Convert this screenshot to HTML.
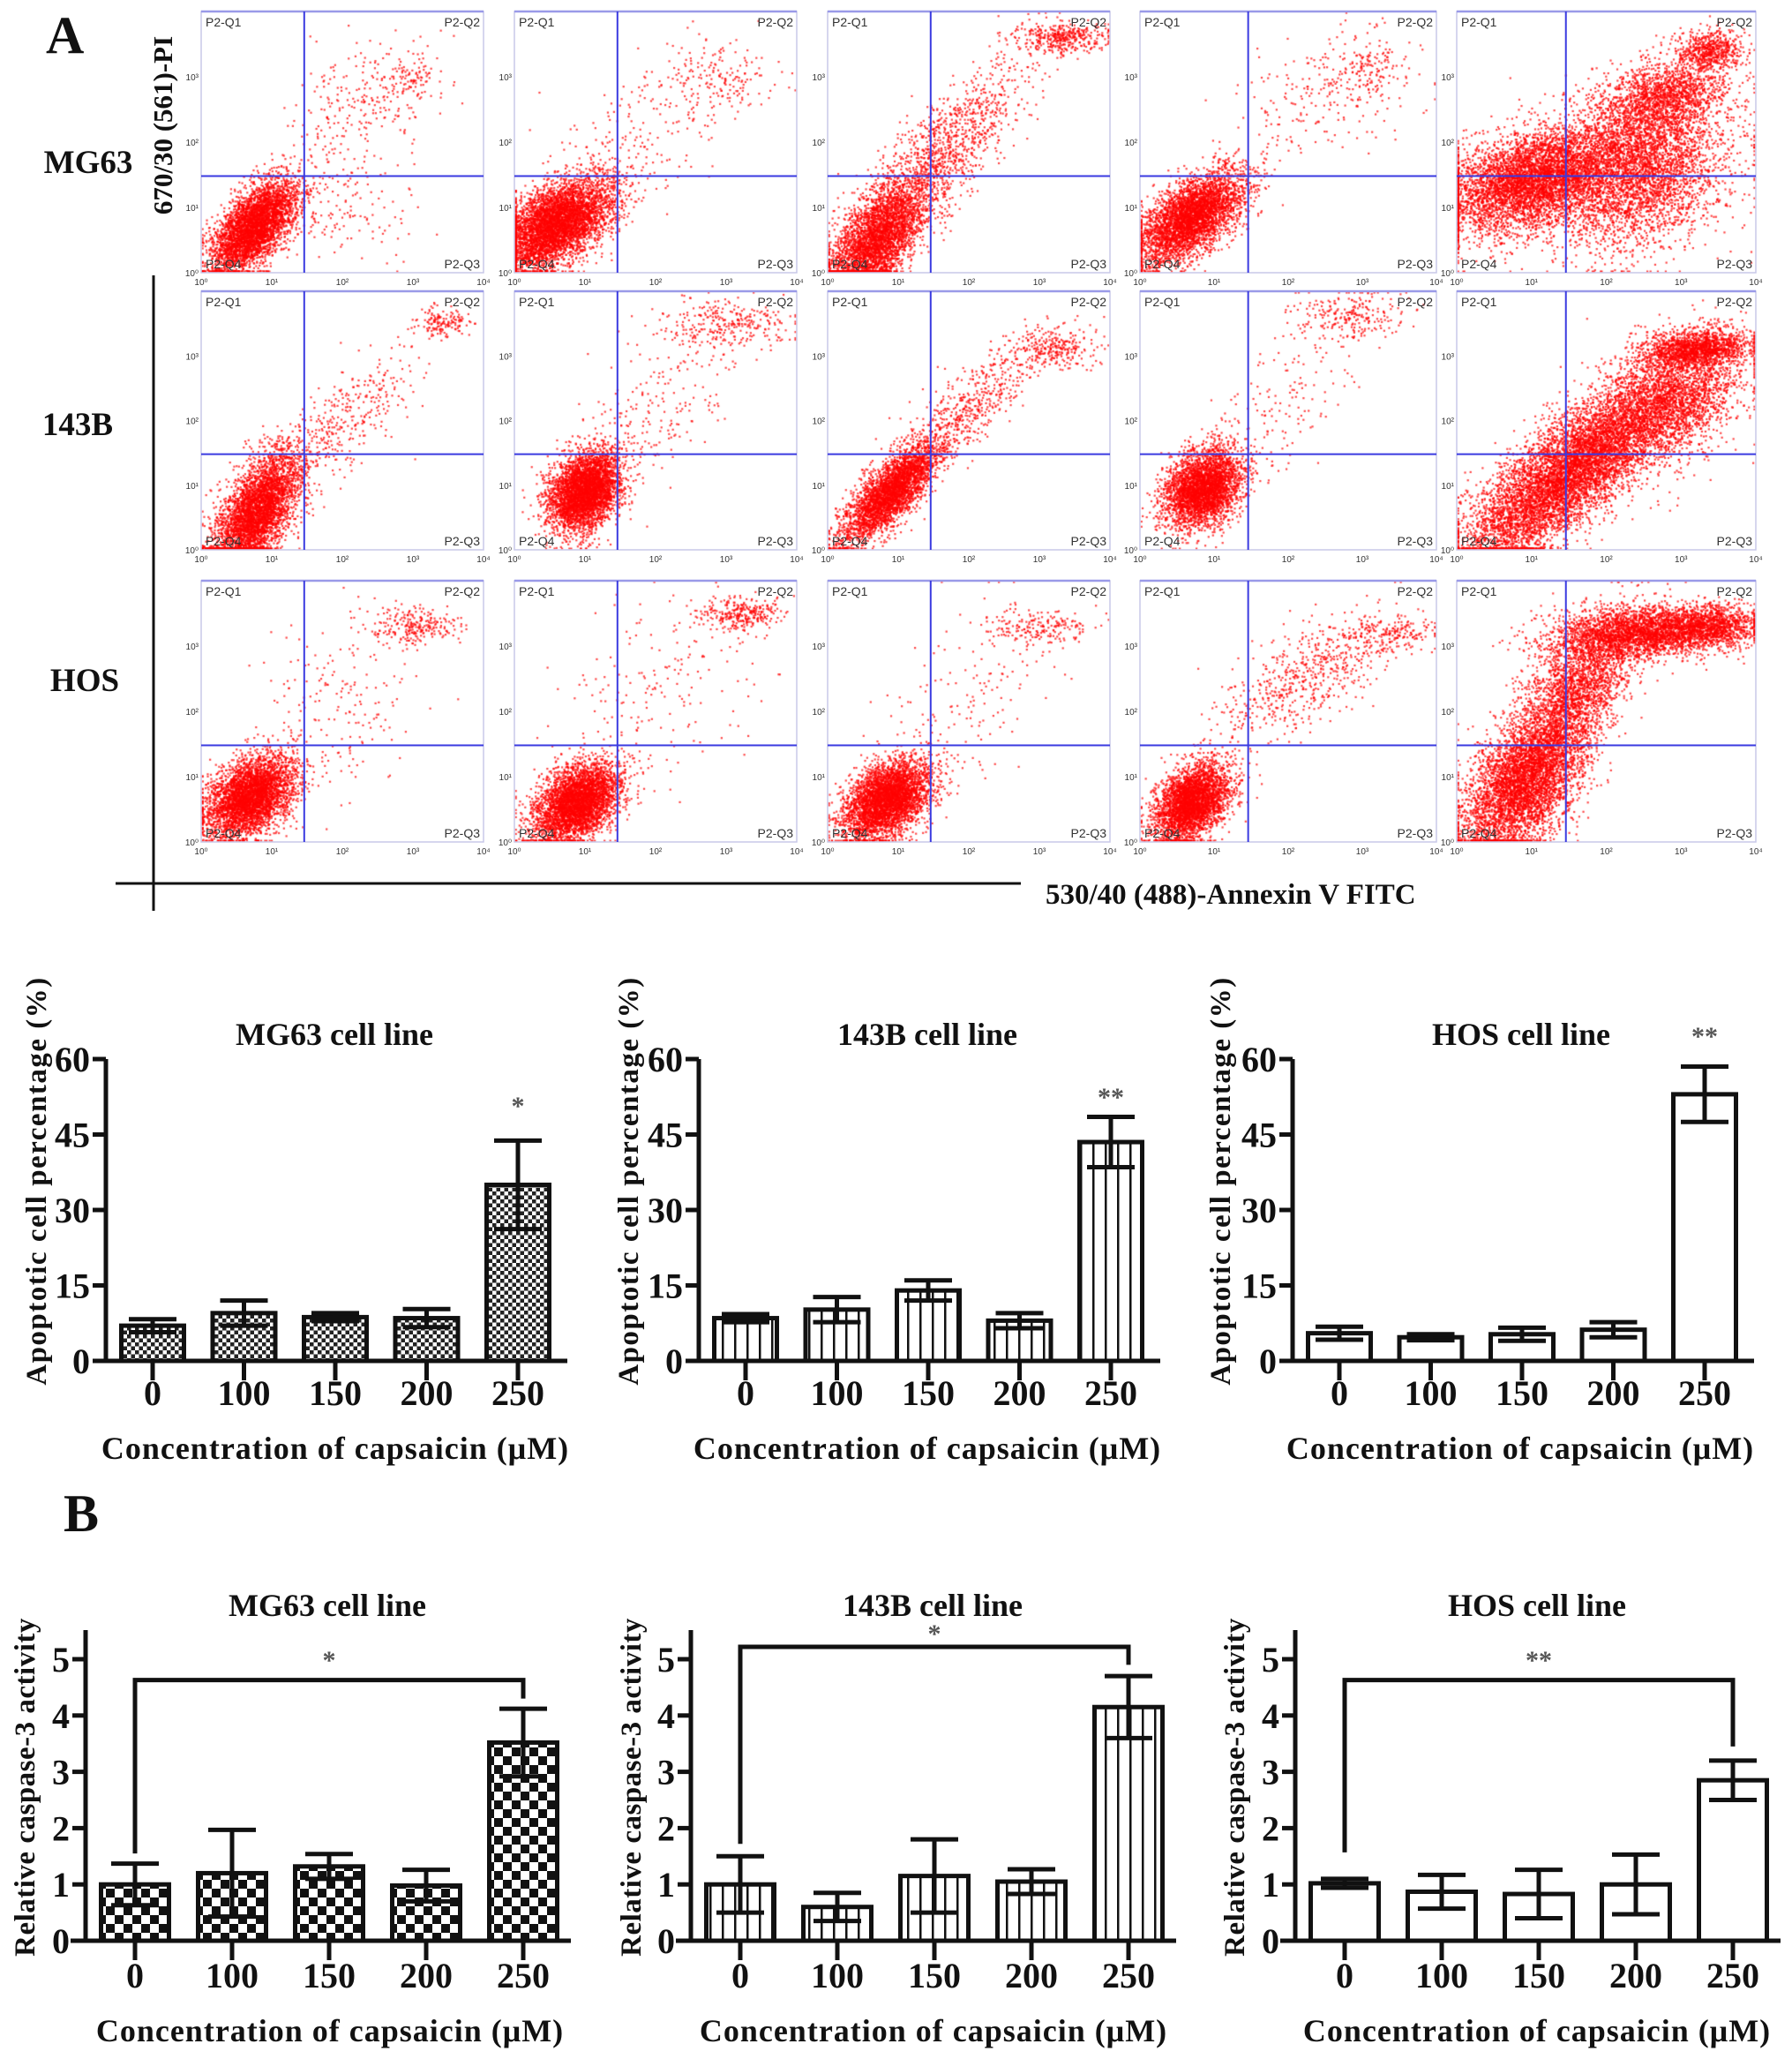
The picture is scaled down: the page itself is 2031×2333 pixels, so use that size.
<!DOCTYPE html>
<html><head><meta charset="utf-8"><style>
html,body{margin:0;padding:0;background:#fff;}
#wrap{position:relative;width:2031px;height:2333px;overflow:hidden;}
canvas,svg{position:absolute;left:0;top:0;}
text{font-family:"Liberation Serif",serif;font-weight:bold;fill:#111;}
.sm{font-family:"Liberation Sans",sans-serif;font-weight:normal;fill:#333;}
</style></head><body>
<div id="wrap">
<canvas id="cv" width="2031" height="2333"></canvas>
<svg id="sv" width="2031" height="2333" xmlns="http://www.w3.org/2000/svg">
<defs>
<pattern id="chkA" width="9" height="9" patternUnits="userSpaceOnUse"><rect width="9" height="9" fill="#fff"/><rect width="4.5" height="4.5" fill="#222"/><rect x="4.5" y="4.5" width="4.5" height="4.5" fill="#222"/></pattern>
<pattern id="chkB" width="20" height="20" patternUnits="userSpaceOnUse"><rect width="20" height="20" fill="#fff"/><rect width="10" height="10" fill="#111"/><rect x="10" y="10" width="10" height="10" fill="#111"/></pattern>
<pattern id="stripe" width="14" height="10" patternUnits="userSpaceOnUse"><rect width="14" height="10" fill="#fff"/><rect x="6" width="2.5" height="10" fill="#111"/></pattern>
</defs>
<text x="52" y="60" font-size="60">A</text>
<text x="72" y="1735" font-size="60">B</text>
<text x="100" y="196" font-size="37" text-anchor="middle">MG63</text>
<text x="88" y="493" font-size="37" text-anchor="middle">143B</text>
<text x="96" y="783" font-size="37" text-anchor="middle">HOS</text>
<text transform="translate(195,142) rotate(-90)" font-size="31" text-anchor="middle">670/30 (561)-PI</text>
<line x1="174" y1="312" x2="174" y2="1032" stroke="#111" stroke-width="3"/>
<line x1="131" y1="1001" x2="1157" y2="1001" stroke="#111" stroke-width="3"/>
<text x="1185" y="1024" font-size="33">530/40 (488)-Annexin V FITC</text>
<g id="flowg"></g>
<g id="barg"></g>
</svg>
</div>
<script>
// ---------- Bar chart data ----------
const categories = ["0","100","150","200","250"];
const ticksA = [0,15,30,45,60];
const ticksB = [0,1,2,3,4,5];
const mg63ApopMean = [7.0, 9.5, 8.7, 8.5, 35.0];
const mg63ApopErr  = [1.3, 2.5, 0.8, 1.8, 8.8];
const b143ApopMean = [8.5, 10.2, 14.0, 8.0, 43.5];
const b143ApopErr  = [0.8, 2.5, 2.0, 1.5, 5.0];
const hosApopMean  = [5.5, 4.7, 5.3, 6.2, 53.0];
const hosApopErr   = [1.3, 0.6, 1.3, 1.5, 5.5];
const mg63CaspMean = [1.0, 1.2, 1.32, 0.98, 3.52];
const mg63CaspErr  = [0.37, 0.77, 0.22, 0.28, 0.6];
const b143CaspMean = [1.0, 0.6, 1.15, 1.05, 4.15];
const b143CaspErr  = [0.5, 0.25, 0.65, 0.22, 0.55];
const hosCaspMean  = [1.02, 0.87, 0.83, 1.0, 2.85];
const hosCaspErr   = [0.08, 0.3, 0.43, 0.53, 0.35];
const starsA = ["*","**","**"];
const starsB = ["*","*","**"];

// ---------- Flow cytometry cluster data: [cx, cy, sx, sy, corr, n] in log decades ----------
const flowClusters = [
 [[0.75,0.7,0.3,0.35,0.6,4000],[2.3,2.6,0.5,0.5,0.3,250],[3.0,3.0,0.15,0.15,0,80],[2.0,1.0,0.5,0.4,0,150]],
 [[0.6,0.75,0.4,0.35,0.5,5000],[2.8,3.0,0.4,0.3,0,200],[1.8,2.0,0.6,0.5,0.3,150]],
 [[0.7,0.5,0.35,0.45,0.6,3500],[1.6,1.8,0.6,0.7,0.8,1200],[3.3,3.6,0.35,0.12,0,400]],
 [[0.7,0.85,0.35,0.35,0.6,4000],[2.6,2.8,0.6,0.5,0.3,250],[3.1,3.1,0.2,0.2,0,100]],
 [[1.0,1.4,0.6,0.4,0.4,5000],[2.4,1.6,0.6,0.6,0.2,4000],[2.8,2.7,0.4,0.3,0.3,1500],[3.4,3.4,0.2,0.15,0,600]],
 [[0.8,0.6,0.3,0.45,0.6,4000],[1.8,1.8,0.6,0.6,0.8,400],[3.4,3.5,0.2,0.12,0,150]],
 [[1.0,0.9,0.25,0.3,0.3,4000],[3.0,3.5,0.5,0.2,0,300],[2.0,2.2,0.5,0.6,0.5,200]],
 [[0.9,0.9,0.35,0.4,0.8,3500],[2.1,2.3,0.5,0.5,0.8,500],[3.2,3.1,0.3,0.15,0,250]],
 [[0.85,0.95,0.25,0.3,0.3,3500],[2.9,3.6,0.4,0.2,0,250],[1.9,2.2,0.5,0.6,0.5,150]],
 [[1.0,0.7,0.5,0.5,0.6,3000],[1.8,1.5,0.5,0.5,0.6,3500],[2.8,2.3,0.5,0.5,0.4,3000],[3.2,3.1,0.35,0.15,0.2,1500]],
 [[0.7,0.7,0.3,0.3,0.4,4000],[3.0,3.3,0.3,0.15,0,250],[1.9,2.0,0.6,0.8,0.3,200]],
 [[0.9,0.6,0.3,0.3,0.4,4000],[3.2,3.5,0.3,0.12,0,300],[2.0,2.2,0.7,0.8,0.4,200]],
 [[0.85,0.65,0.3,0.3,0.4,4000],[3.0,3.3,0.4,0.12,0,200],[2.0,2.3,0.6,0.7,0.3,150]],
 [[0.7,0.6,0.25,0.3,0.4,3500],[2.2,2.5,0.6,0.5,0.7,600],[3.4,3.2,0.3,0.15,0,200]],
 [[0.9,0.9,0.4,0.55,0.5,4500],[1.6,2.3,0.4,0.6,0.6,2500],[2.5,3.2,0.6,0.2,0.2,3000],[3.4,3.3,0.3,0.15,0,1000]]
];

const NS="http://www.w3.org/2000/svg";
function el(tag,attrs,parent,txt){const e=document.createElementNS(NS,tag);for(const k in attrs)e.setAttribute(k,attrs[k]);if(txt!==undefined)e.textContent=txt;parent.appendChild(e);return e;}

// ---------- Flow plots ----------
const colX=[228,583,938,1292,1651], colW=[320,320,320,336,339];
const rowY=[13,330,658], rowH=[296,293,296];
const ctx=document.getElementById('cv').getContext('2d');
const fg=document.getElementById('flowg');
let seed=12345;
function rnd(){seed|=0;seed=seed+0x6D2B79F5|0;let t=Math.imul(seed^seed>>>15,1|seed);t=t+Math.imul(t^t>>>7,61|t)^t;return((t^t>>>14)>>>0)/4294967296;}
function gauss(){let u=rnd()||1e-9,v=rnd();return Math.sqrt(-2*Math.log(u))*Math.cos(2*Math.PI*v);}
const qnames=["P2-Q1","P2-Q2","P2-Q3","P2-Q4"];
for(let r=0;r<3;r++)for(let c=0;c<5;c++){
  const x0=colX[c],y0=rowY[r],w=colW[c],h=rowH[r];
  const g=el('g',{},fg);
  
  
  el('rect',{x:x0,y:y0,width:w,height:h,fill:'none',stroke:'#c8c8e8','stroke-width':1.5},g);
  el('line',{x1:x0,y1:y0,x2:x0+w,y2:y0,stroke:'#9a9ae8','stroke-width':2.5},g);
  const vx=x0+0.365*w, hy=y0+0.63*h;
  const vl=el('line',{x1:vx,y1:y0,x2:vx,y2:y0+h,stroke:'#3a3ae0','stroke-width':2},g);
  
  
  const hl=el('line',{x1:x0,y1:hy,x2:x0+w,y2:hy,stroke:'#3a3ae0','stroke-width':2},g);
  
  
  el('text',{x:x0+5,y:y0+17,'font-size':14,class:'sm'},g,qnames[0]);
  el('text',{x:x0+w-4,y:y0+17,'font-size':14,class:'sm','text-anchor':'end'},g,qnames[1]);
  el('text',{x:x0+w-4,y:y0+h-5,'font-size':14,class:'sm','text-anchor':'end'},g,qnames[2]);
  el('text',{x:x0+5,y:y0+h-5,'font-size':14,class:'sm'},g,qnames[3]);
  for(let d=0;d<=4;d++){
    el('text',{x:x0+d*w/4,y:y0+h+14,'font-size':10,class:'sm','text-anchor':'middle'},g,'10'+['⁰','¹','²','³','⁴'][d]);
    if(d<4) el('text',{x:x0-3,y:y0+h-d*h/4+4,'font-size':10,class:'sm','text-anchor':'end'},g,'10'+['⁰','¹','²','³','⁴'][d]);
  }
  ctx.fillStyle='rgba(255,0,0,0.72)';
  const cl=flowClusters[r*5+c];
  for(const [cx,cy,sx,sy,cr,n] of cl){
    for(let i=0;i<n;i++){
      const z1=gauss(),z2=gauss();
      let dx=cx+sx*z1, dy=cy+sy*(cr*z1+Math.sqrt(1-cr*cr)*z2);
      dx=Math.max(0.02,Math.min(3.98,dx)); dy=Math.max(0.02,Math.min(3.98,dy));
      ctx.fillRect(x0+dx/4*w-1, y0+h-dy/4*h-1, 2.2, 2.2);
    }
  }
}

// ---------- Bar charts ----------
const bg=document.getElementById('barg');
function barChart(o){
  const g=el('g',{},bg);
  
  
  const ys=v=>o.y0-(v-0)*(o.y0-o.yTop)/o.vTop;
  const xs=i=>o.cat0+i*o.step;
  o.mean.forEach((m,i)=>{
    const b=el('rect',{x:xs(i)-o.bw/2,y:ys(m),width:o.bw,height:o.y0-ys(m),fill:o.fill,stroke:'#111','stroke-width':5},g);
    
    
    const e=o.err[i], cx=xs(i);
    const eb=el('path',{d:`M${cx},${ys(m-e)}V${ys(m+e)}M${cx-27},${ys(m+e)}H${cx+27}M${cx-27},${ys(m-e)}H${cx+27}`,stroke:'#111','stroke-width':5,fill:'none'},g);
    
    
    const tk=el('line',{x1:cx,y1:o.y0,x2:cx,y2:o.y0+22,stroke:'#111','stroke-width':5},g);
    
    
    const tl=el('text',{x:cx,y:o.y0+o.tlOff,'font-size':40,'text-anchor':'middle'},g,categories[i]);
    
    
  });
  const ya=el('line',{x1:o.ax,y1:o.axTop,x2:o.ax,y2:o.y0+2,stroke:'#111','stroke-width':5},g);
  
  
  const xa=el('line',{x1:o.ax-o.xl,y1:o.y0,x2:o.axEnd,y2:o.y0,stroke:'#111','stroke-width':5},g);
  
  
  o.ticks.forEach(t=>{
    const tk=el('line',{x1:o.ax-15,y1:ys(t),x2:o.ax,y2:ys(t),stroke:'#111','stroke-width':5},g);
    
    
    const tl=el('text',{x:o.ax-18,y:ys(t)+14,'font-size':40,'text-anchor':'end'},g,String(t));
    
    
  });
  const tt=el('text',{x:o.titleX,y:o.titleY+12,'font-size':36,'text-anchor':'middle'},g,o.title);
  
  
  const xt=el('text',{x:o.xtX,y:o.xtY+12,'font-size':36,'text-anchor':'middle','letter-spacing':'1'},g,'Concentration of capsaicin (μM)');
  
  
  const yt=el('text',{transform:`translate(${o.ytX+12},${o.ytY}) rotate(-90)`,'font-size':o.ytSize,'text-anchor':'middle','letter-spacing':o.ytLs},g,o.ytitle);
  
  
  if(o.bracket){
    const [lv,topv,rv]=o.bracket;
    const br=el('path',{d:`M${xs(0)},${ys(lv)}V${ys(topv)}H${xs(4)}V${ys(rv)}`,stroke:'#111','stroke-width':5,fill:'none'},g);
    
    
    const st=el('text',{x:(xs(0)+xs(4))/2,y:o.starY+14,'font-size':30,'text-anchor':'middle',style:'fill:#555'},g,o.star);
    
    
  } else {
    const st=el('text',{x:xs(4),y:o.starY+14,'font-size':30,'text-anchor':'middle',style:'fill:#555'},g,o.star);
    
    
  }
}
const offA=[0,672,1345], offB=[0,686,1371];
const meansA=[mg63ApopMean,b143ApopMean,hosApopMean], errsA=[mg63ApopErr,b143ApopErr,hosApopErr];
const meansB=[mg63CaspMean,b143CaspMean,hosCaspMean], errsB=[mg63CaspErr,b143CaspErr,hosCaspErr];
const titles=["MG63 cell line","143B cell line","HOS cell line"];
const fillsA=["url(#chkA)","url(#stripe)","#fff"], fillsB=["url(#chkB)","url(#stripe)","#fff"];
const starYA=[1249,1239,1170];
const titleXA=[379,1051,1724], xtXA=[380,1051,1723];
const titleXB=[371,1057,1742], xtXB=[374,1058,1742];
const ytXA=[40,711,1382], ytXB=[27,714,1398];
const bracketB=[[1.55,4.63,4.3],[1.72,5.22,4.9],[1.57,4.63,3.45]];
const starYB=[1877,1847,1877];
for(let k=0;k<3;k++){
  barChart({name:'apoptosis-chart-'+k,mean:meansA[k],err:errsA[k],ticks:ticksA,vTop:60,y0:1542,yTop:1200,axTop:1200,
    ax:120+offA[k],axEnd:643+offA[k],xl:13,cat0:173+offA[k],step:103.5,bw:71,fill:fillsA[k],tlOff:50,
    title:titles[k],titleX:titleXA[k],titleY:1172,xtX:xtXA[k],xtY:1641,ytX:ytXA[k],ytY:1338,ytSize:33,ytLs:1.5,
    ytitle:'Apoptotic cell percentage (%)',star:starsA[k],starY:starYA[k]});
  barChart({name:'caspase-chart-'+k,mean:meansB[k],err:errsB[k],ticks:ticksB,vTop:5,y0:2199,yTop:1880,axTop:1847,
    ax:97+offB[k],axEnd:647+offB[k],xl:17,cat0:153+offB[k],step:110,bw:77,fill:fillsB[k],tlOff:53,
    title:titles[k],titleX:titleXB[k],titleY:1819,xtX:xtXB[k],xtY:2301,ytX:ytXB[k],ytY:2025,ytSize:33,ytLs:0.5,
    ytitle:'Relative caspase-3 activity',star:starsB[k],starY:starYB[k],bracket:bracketB[k]});
}
</script>
</body></html>
